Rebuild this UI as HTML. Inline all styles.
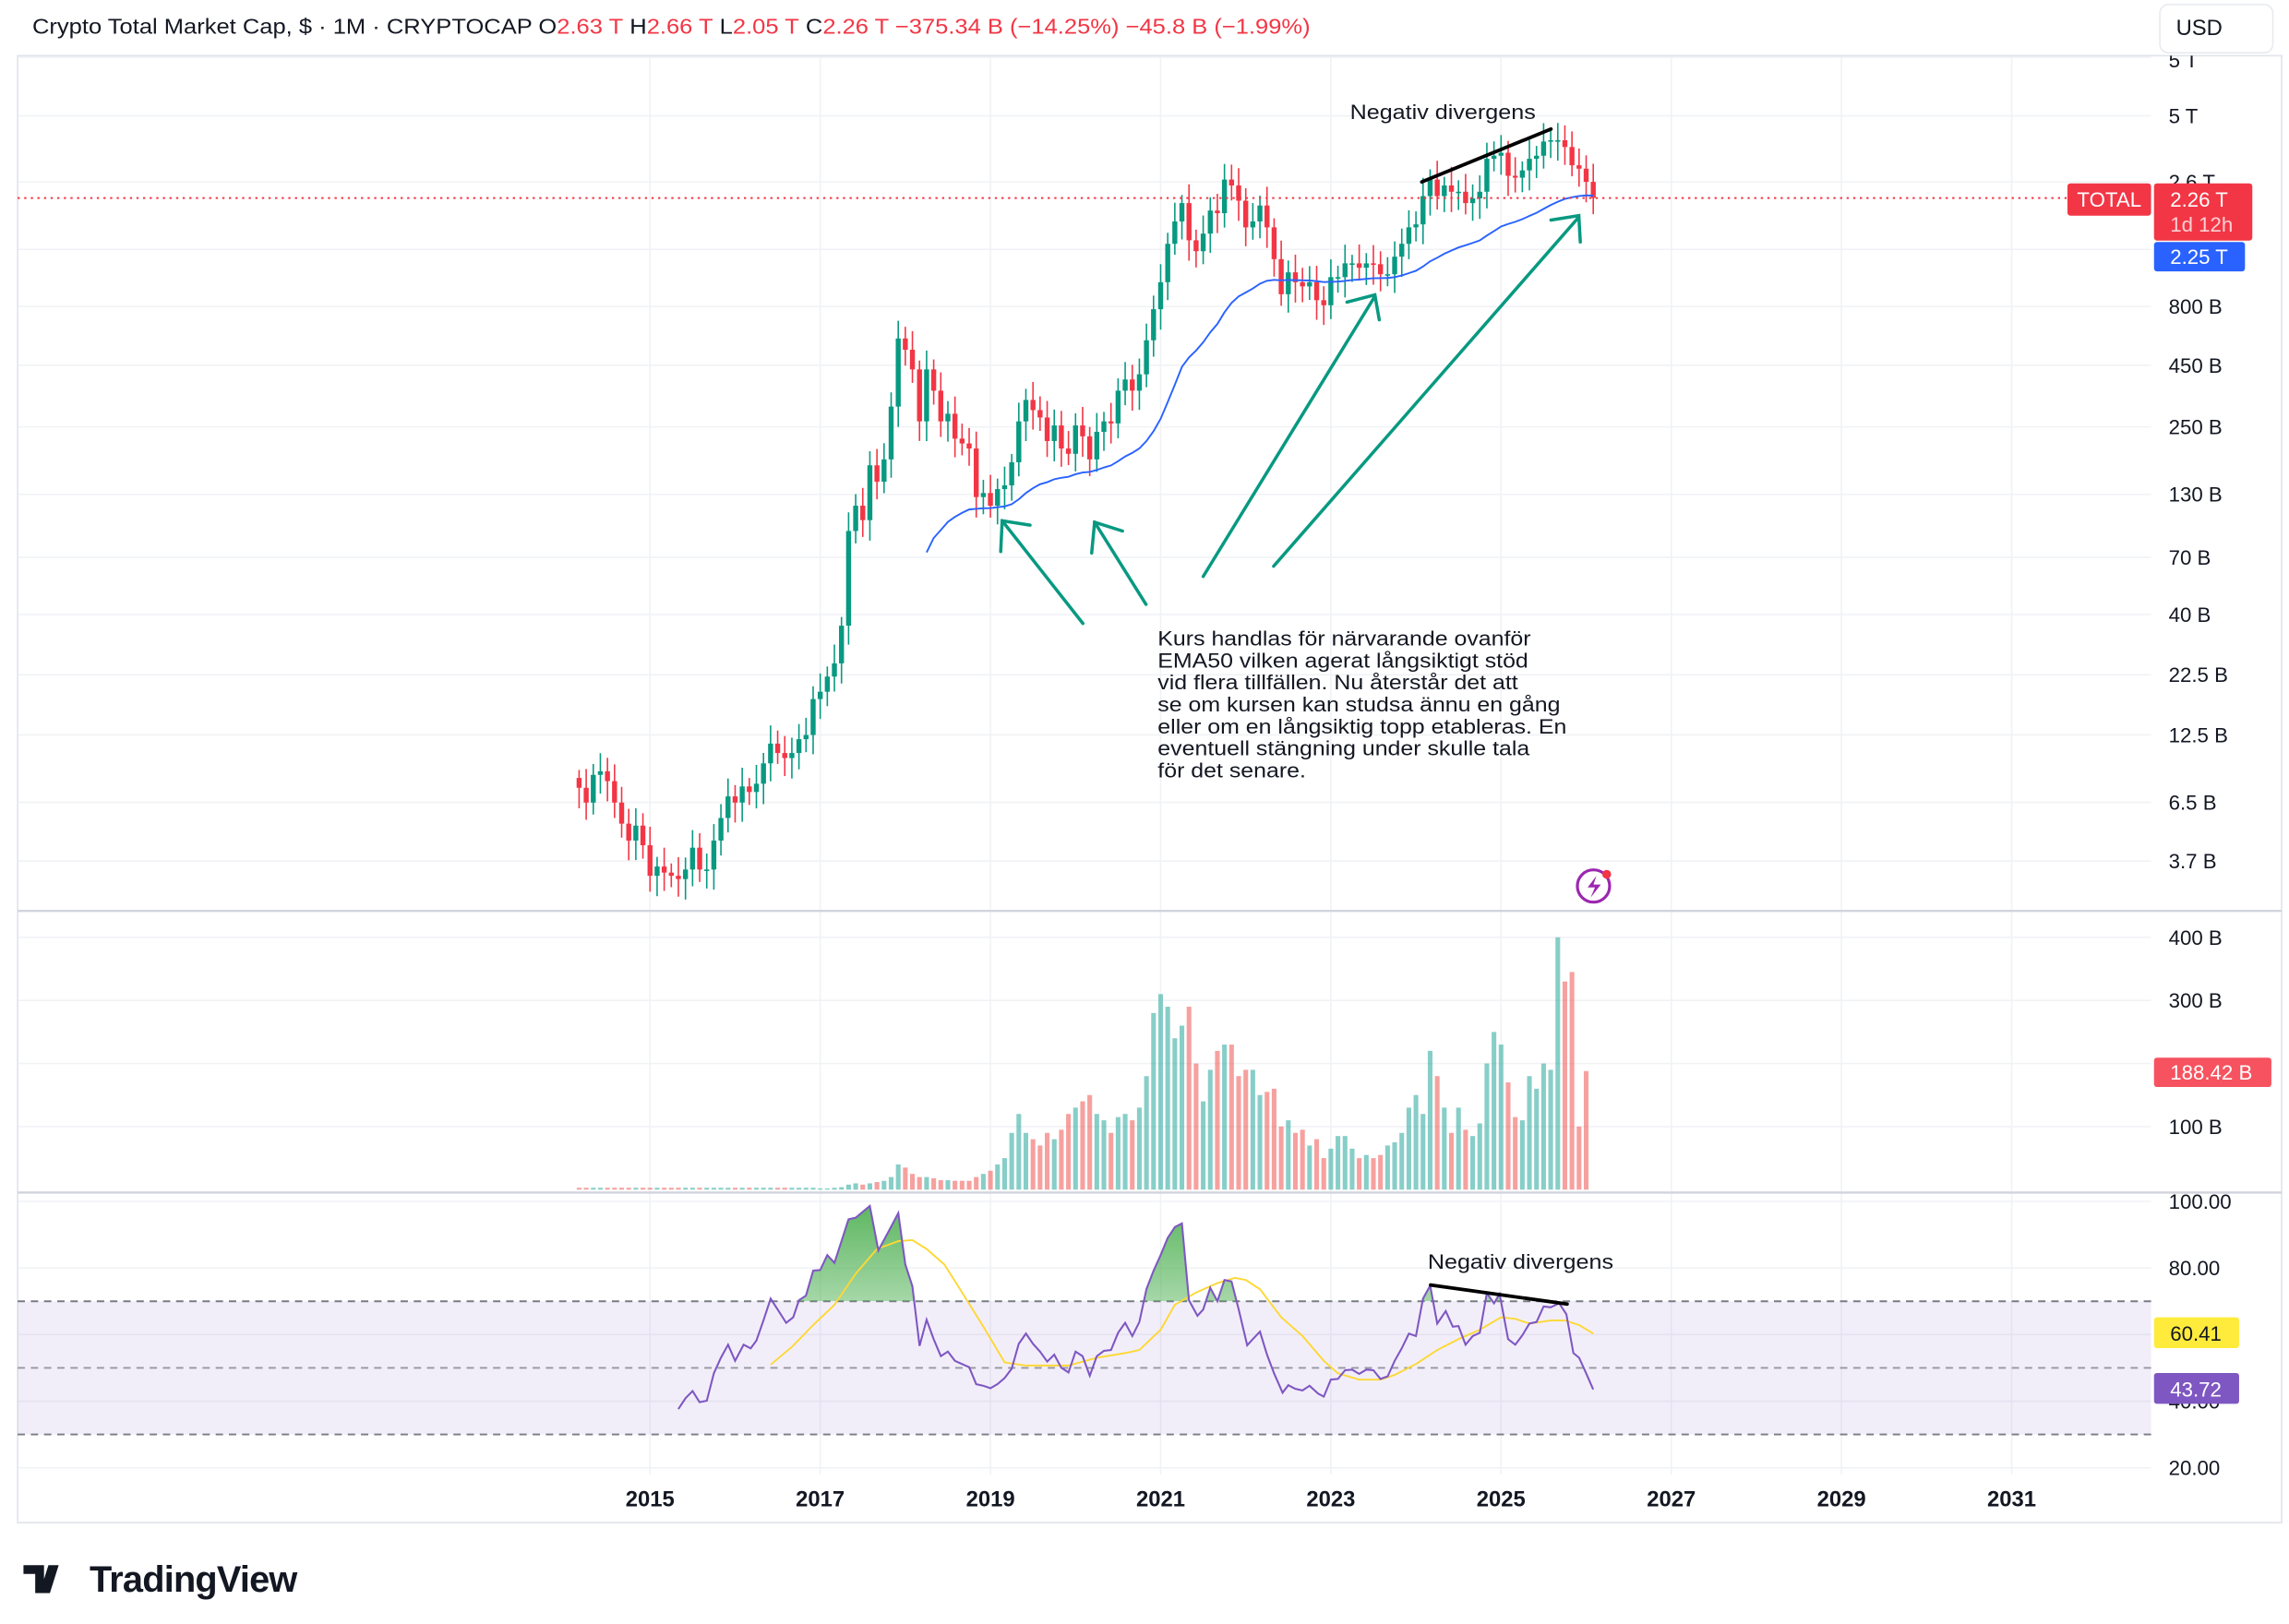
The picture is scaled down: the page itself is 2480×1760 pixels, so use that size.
<!DOCTYPE html>
<html><head><meta charset="utf-8">
<style>
html,body{margin:0;padding:0;background:#fff;}
svg{display:block;}
text{font-family:"Liberation Sans",sans-serif;}
</style></head>
<body>
<svg id="c" width="2480" height="1760" viewBox="0 0 1560 1107.1" preserveAspectRatio="none" xmlns="http://www.w3.org/2000/svg">
<rect x="0" y="0" width="1560" height="1108" fill="#fff"/>
<defs>
<clipPath id="topclip"><rect x="0" y="38" width="1560" height="1000"/></clipPath>
</defs>
<g id="grid"></g>
<g id="rsibg"></g>
<g id="vol"></g>
<g id="cand"></g>
<g id="lines"></g>
<g id="ann" fill="none" stroke="#089981" stroke-width="2.2" stroke-linecap="round">
  <line x1="738" y1="425" x2="683" y2="355"/><polyline points="682,376 683,355 702,358"/>
  <line x1="781" y1="412" x2="746" y2="356"/><polyline points="744,377 746,356 765,362"/>
  <line x1="820" y1="393" x2="937" y2="202"/><polyline points="918,206 937,201 940,218"/>
  <line x1="868" y1="386" x2="1076" y2="148"/><polyline points="1057,150 1076,147 1077,165"/>
</g>
<g stroke="#000" stroke-width="2.4" stroke-linecap="round">
  <line x1="969" y1="124" x2="1057" y2="88"/>
  <line x1="975" y1="876" x2="1068" y2="889"/>
</g>
<g font-size="14" fill="#131722">
  <text x="0" y="81" transform="translate(920,0) scale(1.13,1)">Negativ divergens</text>
  <text x="0" y="865" transform="translate(973,0) scale(1.13,1)">Negativ divergens</text>
  <g transform="translate(789,0) scale(1.12,1)">
  <text x="0" y="440">Kurs handlas för närvarande ovanför</text>
  <text x="0" y="455">EMA50 vilken agerat långsiktigt stöd</text>
  <text x="0" y="470">vid flera tillfällen. Nu återstår det att</text>
  <text x="0" y="485">se om kursen kan studsa ännu en gång</text>
  <text x="0" y="500">eller om en långsiktig topp etableras. En</text>
  <text x="0" y="515">eventuell stängning under skulle tala</text>
  <text x="0" y="530">för det senare.</text>
  </g>
</g>
<circle cx="1086" cy="604" r="11" fill="none" stroke="#9c27b0" stroke-width="2"/>
<path d="M1088,597 L1082,605 L1087,605 L1084,612 L1091,603 L1086,603 Z" fill="#9c27b0"/>
<circle cx="1095" cy="596" r="3" fill="#f23645"/>
<text x="22" y="23" font-size="14.5" fill="#131722" textLength="871" lengthAdjust="spacingAndGlyphs">Crypto Total Market Cap, $ · 1M · CRYPTOCAP  O<tspan fill="#f23645">2.63 T</tspan>  H<tspan fill="#f23645">2.66 T</tspan>  L<tspan fill="#f23645">2.05 T</tspan>  C<tspan fill="#f23645">2.26 T  −375.34 B (−14.25%)  −45.8 B (−1.99%)</tspan></text>
<g id="axis" font-size="14" fill="#131722"></g>
<rect x="1472" y="3" width="77" height="33" rx="6" fill="#fff" stroke="#e8eaef"/>
<text x="1483" y="24" font-size="15" fill="#131722">USD</text>
<g id="labels"></g>
<g transform="translate(16,1064)">
  <path d="M0,3 H14 V22 H8 V9 H0 Z M17,3 H24 L18,22 H11 Z" fill="#131722"/>
  <text x="45" y="21" font-size="25" font-weight="bold" fill="#131722" letter-spacing="-0.5">TradingView</text>
</g>
</svg>
<script>
const NS="http://www.w3.org/2000/svg";
function el(p,t,a,txt){const e=document.createElementNS(NS,t);for(const k in a)e.setAttribute(k,a[k]);if(txt!=null)e.textContent=txt;document.getElementById(p).appendChild(e);return e;}
const closes=[7.5,6.5,8.5,8.8,8,6.5,5.3,4.5,5.2,4.3,
3.2,3.5,3.3,3.2,3.1,3.4,4.2,3.4,3.4,4.5,5.6,6.9,
6.5,7.6,7.2,7.8,9.5,11.5,10.5,10,10.5,12,12.5,17.7,
19,22,25,36,90,115,100,170,145,180,300,580,
520,430,260,430,350,260,280,220,210,200,125,130,
115,135,140,175,260,320,290,270,215,250,200,190,
250,225,180,235,260,255,350,390,350,410,570,770,
1000,1450,1800,2150,1500,1350,1600,2000,1950,2700,2550,2200,
1700,1800,2100,1700,1250,890,1100,1000,960,1000,840,800,
1050,1050,1200,1200,1150,1200,1190,1080,1080,1280,1450,1700,
1750,2300,2700,2300,2550,2400,2400,2150,2250,2400,3300,3400,
3500,2800,2750,2950,3300,3400,3900,3950,3950,3700,3100,3000,2640,2260];
const vols=[3,3,3,3,3,3,3,3,3,3, 3,3,3,3,3,3,3,3,3,3,3,3, 3,3,3,3,3,3,3,3,3,3,3,3,
2,2,3,4,8,10,8,10,12,14,20,40, 35,25,20,20,18,15,15,14,14,14,20,25,
30,40,50,90,120,90,80,70,90,80,95,120, 130,140,150,120,110,90,115,120,110,130,180,280,
310,290,240,260,290,200,140,190,220,230,230,180, 190,190,150,155,160,100,110,90,95,70,80,50,
65,85,85,65,50,55,50,55,70,75,90,130, 150,120,220,180,130,90,130,95,85,105,200,250,
230,170,115,110,180,160,200,190,400,330,345,100,188];
const N=closes.length, m0=-10, dx=58/12;
const X=i=>443+(m0+i)*dx;
const Y=v=>79+(Math.log10(5000)-Math.log10(v))*162.2;
const VY=v=>811-v*0.43;
const RY=v=>819+(100-v)*2.27;
for(const yr of [2015,2017,2019,2021,2023,2025,2027,2029,2031]){const x=443+(yr-2015)*58;
 el('grid','line',{x1:x,y1:38,x2:x,y2:1005,stroke:'#f0f2f5','stroke-width':1});
 el('axis','text',{x:x,y:1027,'text-anchor':'middle','font-weight':'bold','font-size':'15'},String(yr));}
const pt=[[39,'5 T'],[79,'5 T'],[124,'2.6 T'],[209,'800 B'],[249,'450 B'],[291,'250 B'],[337,'130 B'],[380,'70 B'],[419,'40 B'],[460,'22.5 B'],[501,'12.5 B'],[547,'6.5 B'],[587,'3.7 B']];
for(const [y,t] of pt){el('grid','line',{x1:12,y1:y,x2:1466,y2:y,stroke:'#f0f2f5'});}
el('grid','line',{x1:12,y1:170,x2:1466,y2:170,stroke:'#f0f2f5'});
for(const [y,t] of pt.slice(1)){el('axis','text',{x:1478,y:y+5},t);}
el('axis','text',{x:1478,y:46,'clip-path':'url(#topclip)'},'5 T');
for(const [y,t] of [[639,'400 B'],[682,'300 B'],[725,''],[768,'100 B']]){el('grid','line',{x1:12,y1:y,x2:1466,y2:y,stroke:'#f0f2f5'});if(t)el('axis','text',{x:1478,y:y+5},t);}
for(const [v,t] of [[100,'100.00'],[80,'80.00'],[60,''],[40,'40.00'],[20,'20.00']]){const y=RY(v);el('grid','line',{x1:12,y1:y,x2:1466,y2:y,stroke:'#f0f2f5'});if(t)el('axis','text',{x:1478,y:y+5},t);}
el('grid','rect',{x:12,y:38,width:1543,height:1000,fill:'none',stroke:'#e0e3eb'});
el('grid','line',{x1:12,y1:621,x2:1555,y2:621,stroke:'#d1d4dc','stroke-width':1.5});
el('grid','line',{x1:12,y1:813,x2:1555,y2:813,stroke:'#d1d4dc','stroke-width':1.5});
el('rsibg','rect',{x:12,y:RY(70),width:1454,height:RY(30)-RY(70),fill:'#7e57c2','fill-opacity':0.1});
for(const v of [70,50,30]) el('rsibg','line',{x1:12,y1:RY(v),x2:1466,y2:RY(v),stroke:v==50?'#9598a1':'#787b86','stroke-dasharray':'5 4','stroke-width':1.2});
for(let i=0;i<N;i++){const o=i?closes[i-1]:closes[0]*1.1;const c=closes[i];const up=c>=o;
 const col=up?'#089981':'#f23645';const x=X(i);
 const hi=Math.max(o,c)*(1.08+0.12*Math.abs(Math.sin(i*1.7)));const lo=Math.min(o,c)*(0.9-0.08*Math.abs(Math.cos(i*2.3)));
 el('cand','line',{x1:x,y1:Y(hi),x2:x,y2:Y(lo),stroke:col,'stroke-width':1});
 const y1=Y(Math.max(o,c)),y2=Y(Math.min(o,c));
 el('cand','rect',{x:x-1.7,y:y1,width:3.4,height:Math.max(1,y2-y1),fill:col});
 el('vol','rect',{x:x-1.6,y:VY(vols[i]),width:3.2,height:811-VY(vols[i]),fill:up?'#26a69a':'#ef5350','fill-opacity':0.55});
}
let s=0;for(let i=0;i<50;i++)s+=closes[i];let e=s/50;const k=2/51;let p=[X(49).toFixed(1)+','+Y(e).toFixed(1)];
for(let i=50;i<N;i++){e=closes[i]*k+e*(1-k);p.push(X(i).toFixed(1)+','+Y(e).toFixed(1));}
el('lines','polyline',{points:p.join(' '),fill:'none',stroke:'#2962ff','stroke-width':1.2});
const zr=[[170,715],[180,680],[190,657],[200,693],[210,688],[220,600],[230,550],[240,508],[250,560],[262,508],[272,520],[280,495],[290,430],[300,360],[310,395],[322,438],[332,420],[340,365],[350,350],[360,270],[370,268],[380,220],[390,245],[400,175],[410,105],[420,100],[440,62],[452,205],[465,150],[480,85],[490,250],[500,320],[510,512],[520,428],[530,490],[540,545],[550,530],[560,560],[570,570],[580,580],[590,635],[600,640],[610,648],[620,635],[630,615],[640,585],[650,505],[660,472],[670,505],[680,530],[690,562],[700,540],[710,582],[720,597],[730,530],[740,545],[750,608],[760,545],[770,528],[780,525],[790,470],[800,438],[810,480],[820,435],[830,330],[840,270],[850,220],[860,165],[870,130],[880,118],[890,365],[902,415],[910,395],[920,325],[930,368],[940,300],[950,305],[960,395],[972,510],[980,490],[990,466],[1000,540],[1010,600],[1022,662],[1030,638],[1040,650],[1050,655],[1060,640],[1072,665],[1080,675],[1090,620],[1100,618],[1110,590],[1120,588],[1130,602],[1140,588],[1150,590],[1160,618],[1170,610],[1180,560],[1190,520],[1200,472],[1210,480],[1220,360],[1230,318],[1240,440],[1252,400],[1262,450],[1270,448],[1280,508],[1290,480],[1300,470],[1310,342],[1320,375],[1328,345],[1340,490],[1350,508],[1360,478],[1370,440],[1380,435],[1390,385],[1400,388],[1412,375],[1422,410],[1432,535],[1440,550],[1450,600],[1460,652]];
const zm=[[300,572],[330,515],[360,445],[390,380],[420,280],[450,200],[480,175],[500,172],[520,200],[545,250],[570,340],[600,450],[630,565],[660,575],[700,575],[720,575],[760,550],[800,535],[820,525],[850,460],[870,380],[900,340],[930,310],[955,293],[970,300],[990,330],[1020,420],[1050,480],[1080,560],[1100,600],[1130,620],[1160,620],[1180,605],[1210,570],[1240,525],[1270,490],[1300,460],[1330,420],[1350,425],[1370,440],[1400,430],[1420,430],[1440,445],[1460,472]];
const cv=a=>[(443+(a[0]-130)/2.069),(887+(a[1]-368)/4.714)];
const rp=zr.map(cv), mp=zm.map(cv);
const ps=a=>a.map(q=>q[0].toFixed(1)+','+q[1].toFixed(1)).join(' ');
let defs=el('lines','defs',{});const lg=document.createElementNS(NS,'linearGradient');lg.setAttribute('id','gg');lg.setAttribute('x1','0');lg.setAttribute('y1','0');lg.setAttribute('x2','0');lg.setAttribute('y2','1');
lg.innerHTML='<stop offset="0" stop-color="#4caf50" stop-opacity="0.9"/><stop offset="1" stop-color="#4caf50" stop-opacity="0.05"/>';defs.appendChild(lg);
const cp=el('lines','clipPath',{id:'cp'});const cr=document.createElementNS(NS,'rect');cr.setAttribute('x',0);cr.setAttribute('y',815);cr.setAttribute('width',1560);cr.setAttribute('height',RY(70)-815);cp.appendChild(cr);
el('lines','polygon',{points:ps(rp)+' '+rp[rp.length-1][0]+','+RY(70)+' '+rp[0][0]+','+RY(70),fill:'url(#gg)','clip-path':'url(#cp)'});
el('lines','polyline',{points:ps(mp),fill:'none',stroke:'#fdd835','stroke-width':1.2});
el('lines','polyline',{points:ps(rp),fill:'none',stroke:'#7e57c2','stroke-width':1.3});
el('lines','line',{x1:12,y1:135,x2:1410,y2:135,stroke:'#f23645','stroke-dasharray':'1.5 3','stroke-width':1.2});
el('labels','rect',{x:1409,y:125,width:57,height:22,rx:2,fill:'#f23645'});
el('labels','text',{x:1437.5,y:141,'text-anchor':'middle','font-size':'14',fill:'#fff'},'TOTAL');
el('labels','rect',{x:1468,y:125,width:67,height:39,rx:2,fill:'#f23645'});
el('labels','text',{x:1479,y:141,'font-size':'14',fill:'#fff'},'2.26 T');
el('labels','text',{x:1479,y:158,'font-size':'14',fill:'#fbd0d4'},'1d 12h');
el('labels','rect',{x:1468,y:165,width:62,height:20,rx:2,fill:'#2962ff'});
el('labels','text',{x:1479,y:180,'font-size':'14',fill:'#fff'},'2.25 T');
el('labels','rect',{x:1468,y:721,width:80,height:20,rx:2,fill:'#f7525f'});
el('labels','text',{x:1479,y:736,'font-size':'14',fill:'#fff'},'188.42 B');
el('labels','rect',{x:1468,y:898,width:58,height:21,rx:2,fill:'#ffeb3b'});
el('labels','text',{x:1479,y:914,'font-size':'14',fill:'#131722'},'60.41');
el('labels','rect',{x:1468,y:936,width:58,height:21,rx:2,fill:'#7e57c2'});
el('labels','text',{x:1479,y:952,'font-size':'14',fill:'#fff'},'43.72');
</script>
</body></html>
